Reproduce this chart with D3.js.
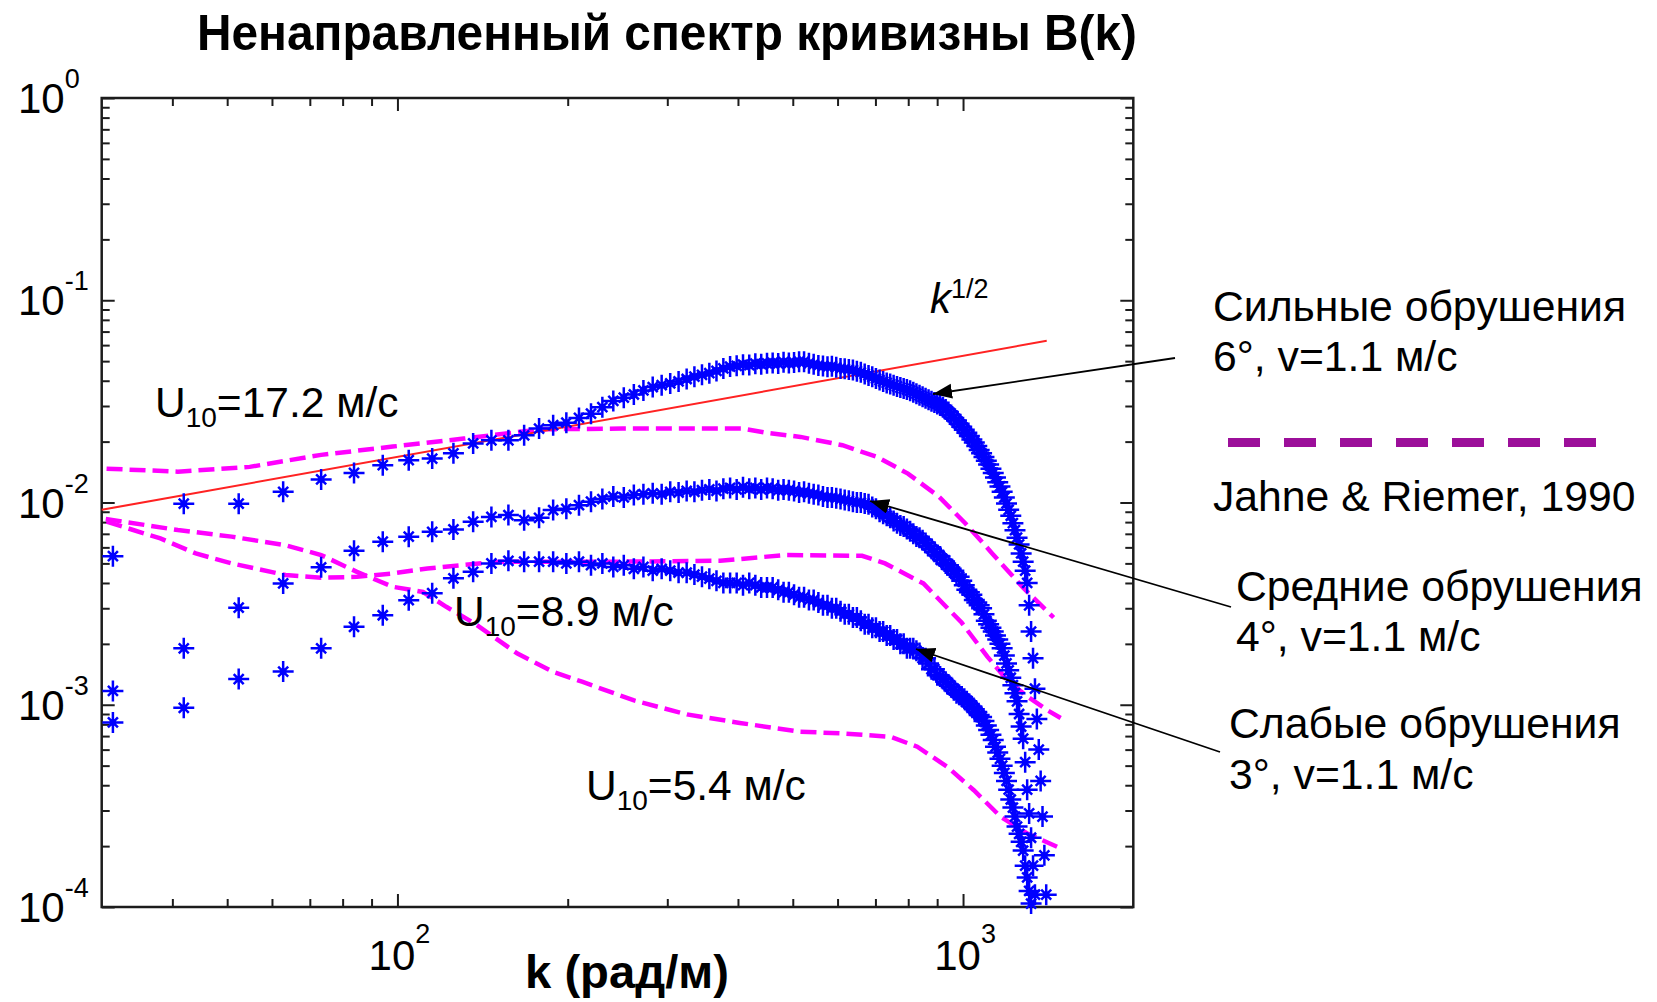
<!DOCTYPE html>
<html>
<head>
<meta charset="utf-8">
<script src="https://cdn.jsdelivr.net/npm/d3@7"></script>
<style>
  html, body { margin: 0; padding: 0; background: #ffffff; }
  svg { display: block; }
  text { font-family: "Liberation Sans", Arial, Helvetica, sans-serif; fill: #000; }
</style>
</head>
<body>
<svg id="chart" width="1657" height="1002"></svg>
<script>
// Wavenumber grid of the measured spectra, rad/m
const waveK = [
  31.4, 41.9, 52.4, 62.8, 73.3, 83.8, 94.2, 104.7, 115.2, 125.6,
  136.1, 146.6, 157.1, 167.5, 178.0, 188.5, 198.9, 209.4, 219.9, 230.3,
  240.8, 251.3, 261.8, 272.2, 282.7, 293.2, 303.6, 314.1, 324.6, 335.0,
  345.5, 356.0, 366.5, 376.9, 387.4, 397.9, 408.3, 418.8, 429.3, 439.7,
  450.2, 460.7, 471.2, 481.6, 492.1, 502.6, 513.0, 523.5, 534.0, 544.4,
  554.9, 565.4, 575.9, 586.3, 596.8, 607.3, 617.7, 628.2, 638.7, 649.1,
  659.6, 670.1, 680.6, 691.0, 701.5, 712.0, 722.4, 732.9, 743.4, 753.8,
  764.3, 774.8, 785.3, 795.7, 806.2, 816.7, 827.1, 837.6, 848.1, 858.5,
  869.0, 879.5, 890.0, 900.4, 910.9, 921.4, 931.8, 942.3, 952.8, 963.2,
  973.7, 984.2, 994.7, 1005.1, 1015.6, 1026.1, 1036.5, 1047.0, 1057.5, 1067.9,
  1078.4, 1088.9, 1099.4, 1109.8, 1120.3, 1130.8, 1141.2, 1151.7, 1162.2, 1172.6,
  1183.1, 1193.6, 1204.1, 1214.5, 1225.0, 1235.5, 1245.9, 1256.4, 1266.9, 1277.3,
  1287.8, 1298.3, 1308.8, 1319.2, 1329.7, 1340.2, 1350.6, 1361.1, 1371.6, 1382.0,
  1392.5, 1403.0
];

// Curvature spectrum B(k): strong breaking, 6 deg
const strongB = [
  0.00543, 0.00986, 0.00986, 0.0113, 0.0130, 0.0140, 0.0153, 0.0162, 0.0165, 0.0175,
  0.0196, 0.0203, 0.0203, 0.0215, 0.0232, 0.0241, 0.0248, 0.0262, 0.0275, 0.0296,
  0.0318, 0.0330, 0.0342, 0.0358, 0.0372, 0.0380, 0.0388, 0.0397, 0.0408, 0.0419,
  0.0428, 0.0436, 0.0447, 0.0460, 0.0470, 0.0474, 0.0480, 0.0478, 0.0486, 0.0483,
  0.0488, 0.0490, 0.0487, 0.0494, 0.0489, 0.0492, 0.0497, 0.0497, 0.0488, 0.0482,
  0.0476, 0.0473, 0.0469, 0.0472, 0.0466, 0.0460, 0.0458, 0.0455, 0.0452, 0.0446,
  0.0440, 0.0432, 0.0425, 0.0418, 0.0410, 0.0403, 0.0396, 0.0390, 0.0385, 0.0380,
  0.0375, 0.0370, 0.0366, 0.0362, 0.0357, 0.0351, 0.0345, 0.0339, 0.0333, 0.0328,
  0.0322, 0.0317, 0.0312, 0.0307, 0.0302, 0.0296, 0.0288, 0.0280, 0.0271, 0.0262,
  0.0254, 0.0245, 0.0237, 0.0229, 0.0221, 0.0213, 0.0205, 0.0198, 0.0190, 0.0182,
  0.0175, 0.0168, 0.0161, 0.0154, 0.0147, 0.0140, 0.0133, 0.0126, 0.0120, 0.0113,
  0.0106, 0.0099, 0.0092, 0.0086, 0.0079, 0.0073, 0.0067, 0.0062, 0.0056, 0.0051,
  0.0046, 0.0040, 0.0031, 0.0023, 0.0017, 0.0012, 0.00085, 0.00060, 0.00042, 0.00028,
  0.00018, 0.000115
];

// Medium breaking, 4 deg
const mediumB = [
  0.00117, 0.0019, 0.00302, 0.00398, 0.00478, 0.00577, 0.0064, 0.00678, 0.00716, 0.00736,
  0.00804, 0.00849, 0.00867, 0.00818, 0.0084, 0.00917, 0.0093, 0.0097, 0.0101, 0.0104,
  0.0107, 0.0106, 0.0109, 0.0110, 0.0111, 0.0110, 0.0113, 0.0112, 0.0114, 0.0113,
  0.0115, 0.0116, 0.0114, 0.0117, 0.0118, 0.0116, 0.0119, 0.0117, 0.0118, 0.0116,
  0.0118, 0.0117, 0.0115, 0.0116, 0.0115, 0.0114, 0.0112, 0.0113, 0.0111, 0.0110,
  0.0109, 0.0107, 0.0106, 0.0106, 0.0105, 0.0104, 0.0103, 0.0102, 0.0101, 0.0100,
  0.0100, 0.0099, 0.0098, 0.0095, 0.0093, 0.0090, 0.0088, 0.0086, 0.0084, 0.0081,
  0.0079, 0.0077, 0.0076, 0.0074, 0.0072, 0.0070, 0.0068, 0.0067, 0.0065, 0.0063,
  0.0061, 0.0059, 0.0057, 0.0055, 0.0054, 0.0052, 0.0050, 0.0049, 0.0047, 0.0046,
  0.0044, 0.0043, 0.0041, 0.0039, 0.0037, 0.0036, 0.0035, 0.0033, 0.0032, 0.0031,
  0.0030, 0.0028, 0.0026, 0.0025, 0.0024, 0.0023, 0.0022, 0.0021, 0.0020, 0.0019,
  0.00175, 0.0016, 0.00148, 0.00136, 0.00125, 0.00114, 0.00104, 0.00090, 0.00078, 0.00068,
  0.00052, 0.00038, 0.00029, 0.00022, 0.00016, 0.000115
];

// Weak breaking, 3 deg
const weakB = [
  0.000818, 0.000966, 0.00134, 0.00146, 0.0019, 0.00243, 0.00277, 0.00329, 0.00356, 0.00422,
  0.00454, 0.0050, 0.00515, 0.0051, 0.0051, 0.0051, 0.0050, 0.0051, 0.0049, 0.0050,
  0.0048, 0.0049, 0.0047, 0.0048, 0.0046, 0.0047, 0.0046, 0.0045, 0.0045, 0.0044,
  0.0043, 0.0042, 0.0041, 0.0040, 0.0040, 0.0040, 0.0039, 0.0040, 0.0039, 0.0038,
  0.0038, 0.0038, 0.0037, 0.0036, 0.0036, 0.0035, 0.0034, 0.0034, 0.0033, 0.0033,
  0.0032, 0.0031, 0.0031, 0.0030, 0.0030, 0.0029, 0.0028, 0.0028, 0.0027, 0.0027,
  0.0026, 0.0025, 0.0025, 0.0024, 0.0024, 0.0023, 0.0023, 0.0022, 0.0022, 0.0021,
  0.0021, 0.0020, 0.0020, 0.0019, 0.0019, 0.0019, 0.00185, 0.0018, 0.0017, 0.0017,
  0.0016, 0.0015, 0.0015, 0.0014, 0.00138, 0.00134, 0.0013, 0.00126, 0.00122, 0.00118,
  0.00114, 0.00112, 0.0011, 0.00107, 0.00104, 0.00101, 0.00098, 0.00095, 0.00092, 0.00089,
  0.00087, 0.00083, 0.00079, 0.00075, 0.00071, 0.00067, 0.00062, 0.00058, 0.00054, 0.00050,
  0.00046, 0.00042, 0.00038, 0.00034, 0.00031, 0.00028, 0.00025, 0.00023, 0.00021, 0.00019,
  0.00016, 0.00014, 0.00012, 0.000104
];

// Jahne & Riemer (1990) curvature spectra for three wind speeds
const jr172K = [30.6, 40.9, 54.8, 73.3, 98.1, 131, 179, 250, 408, 455, 516, 612, 705, 799, 906, 1009, 1126, 1276, 1446];
const jr172B = [0.0147, 0.0142, 0.0150, 0.0172, 0.0189, 0.0207, 0.0230, 0.0232, 0.0232, 0.0220, 0.0211, 0.0192, 0.0168, 0.0139, 0.0107, 0.0079, 0.0056, 0.0038, 0.0027];

const jr89K = [30.6, 38.1, 44.0, 50.9, 63.4, 73.3, 84.8, 98.1, 113, 131, 152, 189, 250, 372, 485, 663, 728, 851, 994, 1104, 1198, 1299, 1409, 1488];
const jr89B = [0.00804, 0.00664, 0.00560, 0.00500, 0.00438, 0.00425, 0.00429, 0.00446, 0.00472, 0.00491, 0.00510, 0.00510, 0.00510, 0.00515, 0.00550, 0.00545, 0.00500, 0.00398, 0.00255, 0.00173, 0.00132, 0.00110, 0.00094, 0.00086];

const jr54K = [30.5, 40.9, 50.9, 63.4, 73.3, 84.8, 98.1, 111, 122, 137, 163, 189, 212, 262, 325, 403, 515, 615, 745, 830, 938, 1045, 1166, 1299, 1488];
const jr54B = [0.00829, 0.00731, 0.00678, 0.00615, 0.00550, 0.00454, 0.00383, 0.00361, 0.00305, 0.00252, 0.00179, 0.00145, 0.00130, 0.00105, 0.000896, 0.000813, 0.000736, 0.000721, 0.000694, 0.000620, 0.000493, 0.000378, 0.000279, 0.000231, 0.000195];

// k^(1/2) reference slope
const slopeK = [30, 1406];
const slopeB = [0.0092, 0.063];

// Axis ticks
const xMajorTicks = [100, 1000];
const xMinorTicks = [40, 50, 60, 70, 80, 90, 200, 300, 400, 500, 600, 700, 800, 900];
const xTickExponents = [2, 3];
const yTickExponents = [0, -1, -2, -3, -4];

const svg = d3.select("#chart");
const plot = { left: 101.7, right: 1133.3, top: 98, bottom: 907 };

const x = d3.scaleLog().domain([30, 2000]).range([plot.left, plot.right]);
const y = d3.scaleLog().domain([1e-4, 1]).range([plot.bottom, plot.top]);

const yMajorTicks = yTickExponents.map(e => Math.pow(10, e));
const yMinorTicks = [];
for (let e = -4; e < 0; e++) {
  for (let m = 2; m <= 9; m++) yMinorTicks.push(m * Math.pow(10, e));
}

const axisColor = "#1c1c1c";

// Inward ticks on all four sides
function tickAxis(axis, values, len, transform) {
  const g = svg.append("g")
    .attr("transform", transform)
    .attr("color", axisColor)
    .call(axis.tickValues(values).tickSize(-len).tickFormat(""));
  g.select(".domain").remove();
  g.selectAll(".tick line").attr("stroke-width", 2);
  return g;
}
tickAxis(d3.axisBottom(x), xMinorTicks, 8, `translate(0,${plot.bottom})`);
tickAxis(d3.axisBottom(x), xMajorTicks, 13, `translate(0,${plot.bottom})`);
tickAxis(d3.axisTop(x), xMinorTicks, 8, `translate(0,${plot.top})`);
tickAxis(d3.axisTop(x), xMajorTicks, 13, `translate(0,${plot.top})`);
tickAxis(d3.axisLeft(y), yMinorTicks, 8, `translate(${plot.left},0)`);
tickAxis(d3.axisLeft(y), yMajorTicks, 13, `translate(${plot.left},0)`);
tickAxis(d3.axisRight(y), yMinorTicks, 8, `translate(${plot.right},0)`);
tickAxis(d3.axisRight(y), yMajorTicks, 13, `translate(${plot.right},0)`);

// Frame
svg.append("rect")
  .attr("x", plot.left).attr("y", plot.top)
  .attr("width", plot.right - plot.left).attr("height", plot.bottom - plot.top)
  .attr("fill", "none").attr("stroke", axisColor).attr("stroke-width", 2.5);

// Tick labels as powers of ten
const yLab = svg.append("g");
yTickExponents.forEach(e => {
  const t = yLab.append("text")
    .attr("x", 18).attr("y", y(Math.pow(10, e)) + 15)
    .attr("font-size", 42);
  t.append("tspan").text("10");
  t.append("tspan").attr("dy", -25).attr("font-size", 27).text(String(e));
});
const xLab = svg.append("g");
xTickExponents.forEach(e => {
  const t = xLab.append("text")
    .attr("x", x(Math.pow(10, e)) + 2).attr("y", 970)
    .attr("text-anchor", "middle")
    .attr("font-size", 42);
  t.append("tspan").text("10");
  t.append("tspan").attr("dy", -27).attr("font-size", 27).text(String(e));
});

const line = d3.line().x(d => x(d[0])).y(d => y(d[1]));
const zip = (ks, bs) => ks.slice(0, bs.length).map((k, i) => [k, bs[i]]);

// Jahne & Riemer curves
[[jr172K, jr172B], [jr89K, jr89B], [jr54K, jr54B]].forEach(([ks, bs]) => {
  svg.append("path")
    .datum(zip(ks, bs))
    .attr("d", line)
    .attr("fill", "none")
    .attr("stroke", "#ff00ff")
    .attr("stroke-width", 4.5)
    .attr("stroke-dasharray", "16,7");
});

// k^1/2 line
svg.append("path")
  .datum(zip(slopeK, slopeB))
  .attr("d", line)
  .attr("fill", "none")
  .attr("stroke", "#ff2222")
  .attr("stroke-width", 2);

// Asterisk markers of the three measured spectra
const starPath = "M-10.5,0H10.5M0,-10.5V10.5M-5,-5L5,5M-5,5L5,-5";
[strongB, mediumB, weakB].forEach(bs => {
  const g = svg.append("g");
  const pts = zip(waveK, bs);
  g.selectAll("path")
    .data(pts)
    .join("path")
    .attr("d", starPath)
    .attr("transform", d => `translate(${x(d[0])},${y(d[1])})`)
    .attr("fill", "none")
    .attr("stroke", "#0000ff")
    .attr("stroke-width", 2.5);
  g.selectAll("circle")
    .data(pts)
    .join("circle")
    .attr("cx", d => x(d[0]))
    .attr("cy", d => y(d[1]))
    .attr("r", 3.2)
    .attr("fill", "#0000ff");
});

// Title and axis caption
svg.append("text")
  .attr("x", 197).attr("y", 50)
  .attr("font-size", 50).attr("font-weight", "bold")
  .attr("textLength", 940).attr("lengthAdjust", "spacingAndGlyphs")
  .text("Ненаправленный спектр кривизны B(k)");

svg.append("text")
  .attr("x", 525).attr("y", 988)
  .attr("font-size", 46).attr("font-weight", "bold")
  .attr("textLength", 204).attr("lengthAdjust", "spacingAndGlyphs")
  .text("k (рад/м)");

// Wind speed labels
function windLabel(px, py, value) {
  const t = svg.append("text").attr("x", px).attr("y", py).attr("font-size", 42.5);
  t.append("tspan").text("U");
  t.append("tspan").attr("dy", 10).attr("font-size", 28).text("10");
  t.append("tspan").attr("dy", -10).text("=" + value + " м/с");
}
windLabel(155, 417, "17.2");
windLabel(454, 626, "8.9");
windLabel(586, 800, "5.4");

// k^1/2 annotation
const kt = svg.append("text").attr("x", 930).attr("y", 313).attr("font-size", 42);
kt.append("tspan").attr("font-style", "italic").text("k");
kt.append("tspan").attr("dy", -15).attr("font-size", 27).text("1/2");

// Legend texts
const legendLines = [
  { x: 1213, y: 321, t: "Сильные обрушения" },
  { x: 1213, y: 371, t: "6°, v=1.1 м/с" },
  { x: 1213, y: 511, t: "Jahne & Riemer, 1990" },
  { x: 1236, y: 601, t: "Средние обрушения" },
  { x: 1236, y: 651, t: "4°, v=1.1 м/с" },
  { x: 1229, y: 738, t: "Слабые обрушения" },
  { x: 1229, y: 789, t: "3°, v=1.1 м/с" }
];
svg.append("g").selectAll("text")
  .data(legendLines)
  .join("text")
  .attr("x", d => d.x).attr("y", d => d.y)
  .attr("font-size", 42.7)
  .text(d => d.t);

svg.append("line")
  .attr("x1", 1228).attr("x2", 1596)
  .attr("y1", 442.5).attr("y2", 442.5)
  .attr("stroke", "#9c0f9a")
  .attr("stroke-width", 9)
  .attr("stroke-dasharray", "32,24");

// Arrows pointing at the spectra
svg.append("defs").append("marker")
  .attr("id", "head")
  .attr("markerUnits", "userSpaceOnUse")
  .attr("markerWidth", 22).attr("markerHeight", 16)
  .attr("refX", 19).attr("refY", 7.5)
  .attr("orient", "auto")
  .append("path")
  .attr("d", "M0,0L19,7.5L0,15Z")
  .attr("fill", "#000");

const arrows = [
  { x1: 1175, y1: 358, x2: 933, y2: 394 },
  { x1: 1231, y1: 607, x2: 870, y2: 501 },
  { x1: 1220, y1: 752, x2: 916, y2: 649 }
];
svg.append("g").selectAll("line")
  .data(arrows)
  .join("line")
  .attr("x1", d => d.x1).attr("y1", d => d.y1)
  .attr("x2", d => d.x2).attr("y2", d => d.y2)
  .attr("stroke", "#000")
  .attr("stroke-width", 1.8)
  .attr("marker-end", "url(#head)");
</script>
</body>
</html>
